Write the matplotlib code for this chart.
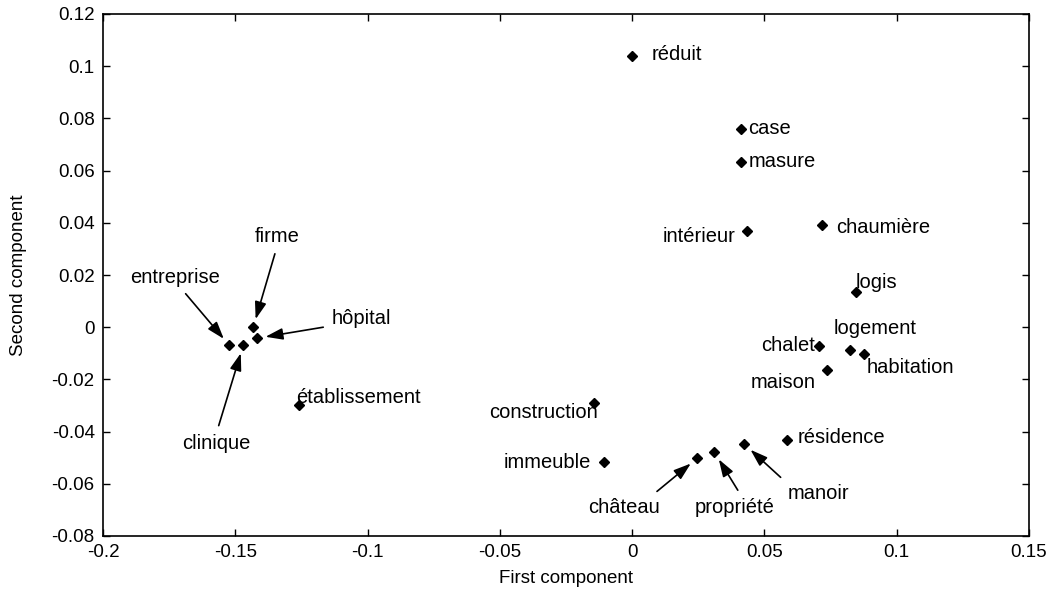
import matplotlib
matplotlib.use("Agg")
import matplotlib.pyplot as plt

plt.rcParams['font.family'] = ['Liberation Sans', 'DejaVu Sans']

words = ["réduit", "case", "masure", "intérieur", "chaumière", "logis",
         "chalet", "logement", "habitation", "maison", "résidence", "manoir",
         "propriété", "château", "construction", "immeuble", "firme",
         "hôpital", "entreprise", "clinique", "établissement"]
first = [0.0, 0.041, 0.041, 0.0436, 0.0716, 0.0845,
         0.0705, 0.0822, 0.0875, 0.0735, 0.0587, 0.0424,
         0.0311, 0.0246, -0.0144, -0.0106, -0.1432,
         -0.1417, -0.1523, -0.147, -0.1258]
second = [0.104, 0.0759, 0.0632, 0.0368, 0.0391, 0.0134,
          -0.0073, -0.0088, -0.0103, -0.0165, -0.0433, -0.0448,
          -0.0479, -0.0502, -0.0291, -0.0517, 0.0,
          -0.0042, -0.0069, -0.0069, -0.0299]
xticks = [-0.2, -0.15, -0.1, -0.05, 0, 0.05, 0.1, 0.15]
yticks = [-0.08, -0.06, -0.04, -0.02, 0, 0.02, 0.04, 0.06, 0.08, 0.1, 0.12]

# layout: label offsets in pixels (dx, dy), alignment, arrow start point
layout = {
    "réduit": ((19, 1), 'left', None),
    "case": ((8, 1), 'left', None),
    "masure": ((8, 1), 'left', None),
    "intérieur": ((-12, -5), 'right', None),
    "chaumière": ((15, -2), 'left', None),
    "logis": ((0, 10), 'left', None),
    "logement": ((-16, 22), 'left', None),
    "habitation": ((3, -13), 'left', None),
    "chalet": ((-4, 1), 'right', None),
    "maison": ((-11, -12), 'right', None),
    "résidence": ((10, 3), 'left', None),
    "construction": ((4, -9), 'right', None),
    "immeuble": ((-13, 0), 'right', None),
    "établissement": ((-3, 8), 'left', None),
    "firme": ((24, 91), 'center', (0.5, 0.0)),
    "entreprise": ((-54, 68), 'center', (0.55, 0.0)),
    "hôpital": ((104, 20), 'center', (0.2, 0.2)),
    "clinique": ((-27, -98), 'center', (0.5, 1.0)),
    "château": ((-73, -49), 'center', (0.85, 1.0)),
    "propriété": ((20, -55), 'center', (0.6, 1.0)),
    "manoir": ((74, -49), 'center', (0.0, 1.0)),
}

fig = plt.figure(figsize=(10.54, 6.0), dpi=100)
ax = fig.add_axes([103/1054, 64/600, 926/1054, 522/600])

ax.plot(first, second, linestyle='none', marker='D', markersize=4.8,
        color='black')

for w, x, y in zip(words, first, second):
    off, ha, rel = layout[w]
    if rel is None:
        ax.annotate(w, (x, y), xytext=off, textcoords='offset pixels',
                    ha=ha, va='center', fontsize=14.5)
    else:
        ax.annotate(w, (x, y), xytext=off, textcoords='offset pixels',
                    ha=ha, va='center', fontsize=14.5,
                    arrowprops=dict(arrowstyle='-|>,head_width=0.25,head_length=0.75',
                                    color='black', lw=1.2,
                                    mutation_scale=14, shrinkA=4, shrinkB=6,
                                    relpos=rel))

ax.set_xlim(-0.2, 0.15)
ax.set_ylim(-0.08, 0.12)
ax.set_xticks(xticks)
ax.set_xticklabels([f"{t:g}" for t in xticks])
ax.set_yticks(yticks)
ax.set_yticklabels([f"{t:g}" for t in yticks])
ax.tick_params(direction='in', length=5, width=1, top=True, right=True,
               labelsize=13.5, pad=6)
for s in ax.spines.values():
    s.set_linewidth(1.2)
ax.set_xlabel("First component", fontsize=13.5, labelpad=6)
ax.set_ylabel("Second component", fontsize=13.5, labelpad=18)

fig.savefig("out.png", dpi=100)
